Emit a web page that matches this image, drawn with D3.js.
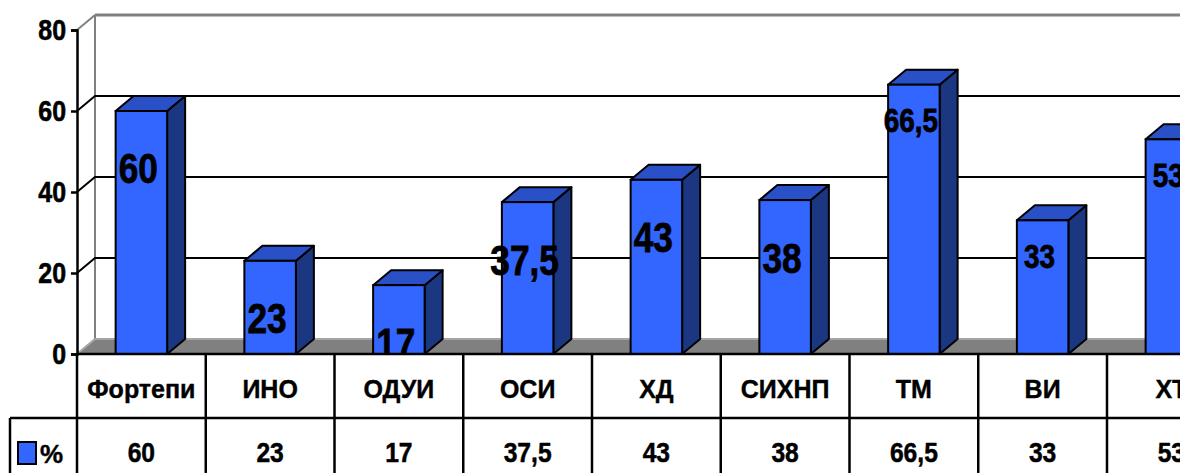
<!DOCTYPE html>
<html>
<head>
<meta charset="utf-8">
<script src="https://cdn.jsdelivr.net/npm/d3@7"></script>
<style>
  html, body { margin: 0; padding: 0; background: #fff; overflow: hidden; }
  .num { font-family: "Liberation Sans", Arial, sans-serif; font-weight: bold; }
  .txt { font-family: "Liberation Sans", Arial, sans-serif; font-weight: bold; }
</style>
</head>
<body>
<svg id="chart"></svg>
<script>
// data
const categories = ["Фортепи", "ИНО", "ОДУИ", "ОСИ", "ХД", "СИХНП", "ТМ", "ВИ", "ХТ"];
const values = [60, 23, 17, 37.5, 43, 38, 66.5, 33, 53];
// data labels in the source come in two sizes
const labelSize = ["big", "big", "big", "big", "big", "big", "small", "small", "small"];
const yTicks = [0, 20, 40, 60, 80];
const seriesName = "%";

const width = 1180, height = 473;
const margin = { left: 77, top: 30 };
const cellW = 128.75;
const depth = { dx: 18, dy: -15 };
const floorY = 354;
const rowH = 64;

const fmt = v => String(v).replace(".", ",");

// squeeze numbers horizontally (source font is narrower), keeping the anchor x in place
function squeeze(sel, k) {
  sel.attr("transform", function() {
    const xx = +d3.select(this).attr("x") || 0;
    return `translate(${xx * (1 - k)},0) scale(${k},1)`;
  });
}

const svg = d3.select("#chart").attr("width", width).attr("height", height);

const x = d3.scaleBand()
  .domain(categories)
  .range([margin.left, margin.left + cellW * categories.length])
  .padding(0);

const y = d3.scaleLinear().domain([0, 80]).range([floorY, margin.top]);

const right = margin.left + cellW * categories.length + 40;

// back wall + side wall outline (grey)
const wall = svg.append("g");
wall.append("line")
  .attr("x1", margin.left + depth.dx).attr("x2", margin.left + depth.dx)
  .attr("y1", y(80) + depth.dy).attr("y2", y(0) + depth.dy)
  .attr("stroke", "#808080").attr("stroke-width", 2);
wall.append("line")
  .attr("x1", margin.left).attr("y1", y(80))
  .attr("x2", margin.left + depth.dx).attr("y2", y(80) + depth.dy)
  .attr("stroke", "#808080").attr("stroke-width", 2);
wall.append("line")
  .attr("x1", margin.left + depth.dx).attr("y1", y(80) + depth.dy)
  .attr("x2", right).attr("y2", y(80) + depth.dy)
  .attr("stroke", "#808080").attr("stroke-width", 3);

// gridlines: diagonal on the side wall, horizontal on the back wall
const grid = svg.append("g");
yTicks.filter(d => d > 0 && d < 80).forEach(t => {
  grid.append("path")
    .attr("d", `M${margin.left},${y(t)}L${margin.left + depth.dx},${y(t) + depth.dy}L${right},${y(t) + depth.dy}`)
    .attr("fill", "none").attr("stroke", "#000").attr("stroke-width", 2);
});

// floor
svg.append("path")
  .attr("d", `M${margin.left},${floorY}L${margin.left + depth.dx},${floorY + depth.dy}L${right},${floorY + depth.dy}L${right},${floorY}Z`)
  .attr("fill", "#808080");
svg.append("line")
  .attr("x1", margin.left + depth.dx).attr("x2", right)
  .attr("y1", floorY + depth.dy).attr("y2", floorY + depth.dy)
  .attr("stroke", "#a6a6a6").attr("stroke-width", 2);
svg.append("line")
  .attr("x1", margin.left).attr("y1", floorY)
  .attr("x2", margin.left + depth.dx).attr("y2", floorY + depth.dy)
  .attr("stroke", "#a6a6a6").attr("stroke-width", 2);

// bars
const barW = x.bandwidth() * 0.4;
const bars = svg.append("g").selectAll("g")
  .data(categories.map((c, i) => ({ c, v: values[i], size: labelSize[i] })))
  .join("g");

bars.each(function(d) {
  const g = d3.select(this);
  const x0 = x(d.c) + (x.bandwidth() - barW) / 2;
  const x1 = x0 + barW;
  const yt = y(d.v), yb = y(0);
  g.append("path")
    .attr("d", `M${x1},${yt}L${x1 + depth.dx},${yt + depth.dy}L${x1 + depth.dx},${yb + depth.dy}L${x1},${yb}Z`)
    .attr("fill", "#1c3782").attr("stroke", "#000").attr("stroke-width", 2).attr("stroke-linejoin", "round");
  g.append("path")
    .attr("d", `M${x0},${yt}L${x0 + depth.dx},${yt + depth.dy}L${x1 + depth.dx},${yt + depth.dy}L${x1},${yt}Z`)
    .attr("fill", "#2a50c8").attr("stroke", "#000").attr("stroke-width", 2).attr("stroke-linejoin", "round");
  g.append("rect")
    .attr("x", x0).attr("y", yt).attr("width", barW).attr("height", yb - yt)
    .attr("fill", "#3366ff").attr("stroke", "#000").attr("stroke-width", 2);
});

// data labels
bars.append("text")
  .attr("class", "num")
  .attr("x", d => x(d.c) + x.bandwidth() / 2 - 3)
  .attr("y", d => y(d.v) + (d.size === "big" ? 57 : 35))
  .attr("dy", "0.36em")
  .attr("text-anchor", "middle")
  .attr("font-size", d => d.size === "big" ? 43 : 34)
  .attr("stroke", "#000").attr("stroke-width", 0.8)
  .text(d => fmt(d.v))
  .call(squeeze, 0.82);

// data table (white cells hide anything below the floor)
const table = svg.append("g");
table.append("rect")
  .attr("x", margin.left).attr("y", floorY + 1)
  .attr("width", right - margin.left).attr("height", height - floorY)
  .attr("fill", "#fff");
table.append("rect")
  .attr("x", 10).attr("y", floorY + rowH)
  .attr("width", margin.left - 10).attr("height", height)
  .attr("fill", "#fff");

const line = (x1, y1, x2, y2) => table.append("line")
  .attr("x1", x1).attr("y1", y1).attr("x2", x2).attr("y2", y2)
  .attr("stroke", "#000").attr("stroke-width", 2.5);

line(margin.left, floorY, right, floorY);
line(10, floorY + rowH, right, floorY + rowH);
line(10, floorY + rowH, 10, height + 5);
categories.forEach(c => line(x(c), floorY, x(c), height + 5));
line(x(categories[categories.length - 1]) + cellW, floorY, x(categories[categories.length - 1]) + cellW, height + 5);

table.selectAll(".cat")
  .data(categories)
  .join("text")
  .attr("class", "txt")
  .attr("x", d => x(d) + x.bandwidth() / 2)
  .attr("y", floorY + 44)
  .attr("text-anchor", "middle")
  .attr("font-size", 25)
  .attr("stroke", "#000").attr("stroke-width", 0.4)
  .text(d => d);

table.selectAll(".val")
  .data(values)
  .join("text")
  .attr("class", "num")
  .attr("x", (d, i) => x(categories[i]) + x.bandwidth() / 2)
  .attr("y", floorY + rowH + 44)
  .attr("text-anchor", "middle")
  .attr("font-size", 28)
  .attr("stroke", "#000").attr("stroke-width", 0.5)
  .text(d => fmt(d))
  .call(squeeze, 0.88);

// legend key
table.append("rect")
  .attr("x", 18).attr("y", floorY + rowH + 24).attr("width", 18).attr("height", 22)
  .attr("fill", "#3366ff").attr("stroke", "#000").attr("stroke-width", 2);
table.append("text")
  .attr("class", "txt")
  .attr("x", 40).attr("y", floorY + rowH + 45)
  .attr("font-size", 26)
  .attr("stroke", "#000").attr("stroke-width", 0.4)
  .text(seriesName);

// y axis
const yAxis = svg.append("g")
  .attr("transform", `translate(${margin.left},0)`)
  .call(d3.axisLeft(y).tickValues(yTicks).tickSize(6).tickPadding(5));
yAxis.select(".domain").attr("stroke", "#000").attr("stroke-width", 2.5);
yAxis.selectAll(".tick line").attr("stroke", "#000").attr("stroke-width", 2.5);
yAxis.selectAll(".tick text")
  .attr("class", "num")
  .attr("font-size", 29)
  .attr("fill", "#000")
  .attr("stroke", "#000").attr("stroke-width", 0.6)
  .call(squeeze, 0.86);
</script>
</body>
</html>
